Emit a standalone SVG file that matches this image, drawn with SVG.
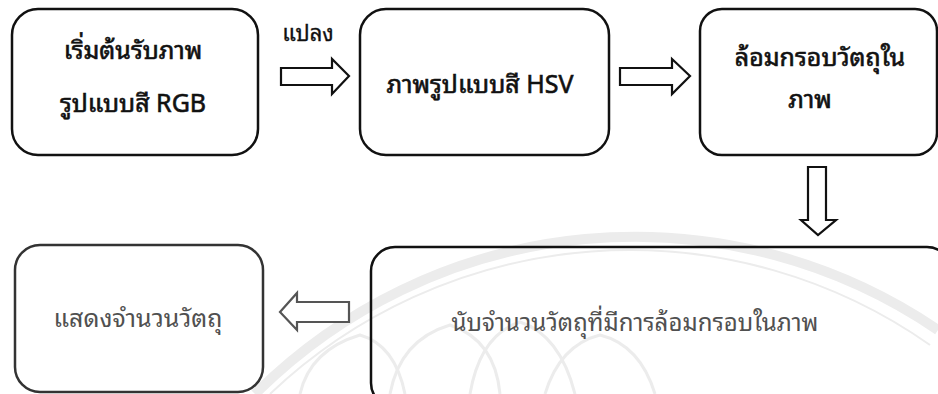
<svg xmlns="http://www.w3.org/2000/svg" width="938" height="394" viewBox="0 0 938 394">
<style>
.box{fill:none;stroke:#111;stroke-width:2.5}
.arr{fill:#fff;stroke:#111;stroke-width:2.2;stroke-linejoin:miter}
.t{font-family:"Noto Sans Thai Looped","Noto Sans Thai","Tahoma","DejaVu Sans","Liberation Sans",sans-serif;font-size:25px;fill:#111;text-anchor:middle;font-weight:400;stroke:#111;stroke-width:0.6}
.g{fill:#505050;stroke:none}
.wm{fill:none;stroke:#ececec}
</style>
<rect width="938" height="394" fill="#fff"/>
<g id="watermark">
<path class="wm" stroke-width="10" d="M 255 394 A 538 538 0 0 1 938 330"/>
<path class="wm" stroke-width="2" d="M 270 394 A 522 522 0 0 1 930 345"/>
<path class="wm" stroke-width="3" d="M 300 394 Q 310 350 360 335 Q 395 345 405 394"/>
<path class="wm" stroke-width="3" d="M 390 394 Q 400 340 450 325 Q 495 340 500 394"/>
<path class="wm" stroke-width="3" d="M 470 394 Q 480 335 520 322 Q 560 335 575 394"/>
<path class="wm" stroke-width="3" d="M 545 394 Q 560 345 600 335 Q 640 345 655 394"/>
</g>
<g id="connectors">
<path class="arr" d="M281 68 H332 V59 L349 76 L332 94 V85 H281 Z"/>
<path class="arr" d="M620 68 H672 V59 L690 76 L672 94 V85 H620 Z"/>
<path class="arr" d="M808 167 H826 V220 H836 L818 235 L801 220 H808 Z"/>
<path class="arr" style="stroke:#555" d="M349 302 V322 H297 V330 L280 312 L297 293 V302 Z"/>
<text class="t" x="308" y="41" style="font-size:22px;stroke-width:0.3">แปลง</text>
</g>
<g id="n1">
<rect class="box" x="12" y="9" width="246" height="146" rx="26"/>
<text class="t" x="133" y="59">เริ่มต้นรับภาพ</text>
<text class="t" x="133" y="112">รูปแบบสี RGB</text>
</g>
<g id="n2">
<rect class="box" x="360" y="9" width="249" height="146" rx="26"/>
<text class="t" x="480" y="93">ภาพรูปแบบสี HSV</text>
</g>
<g id="n3">
<rect class="box" x="700" y="9" width="237" height="146" rx="22"/>
<text class="t" x="820" y="66">ล้อมกรอบวัตถุใน</text>
<text class="t" x="810" y="108">ภาพ</text>
</g>
<g id="n4">
<rect class="box" x="371" y="247" width="580" height="160" rx="24"/>
<text class="t g" x="635" y="331" style="font-size:24px">นับจำนวนวัตถุที่มีการล้อมกรอบในภาพ</text>
</g>
<g id="n5">
<rect class="box" style="stroke:#333" x="15" y="245" width="248" height="147" rx="25"/>
<text class="t g" x="138" y="327">แสดงจำนวนวัตถุ</text>
</g>
</svg>
